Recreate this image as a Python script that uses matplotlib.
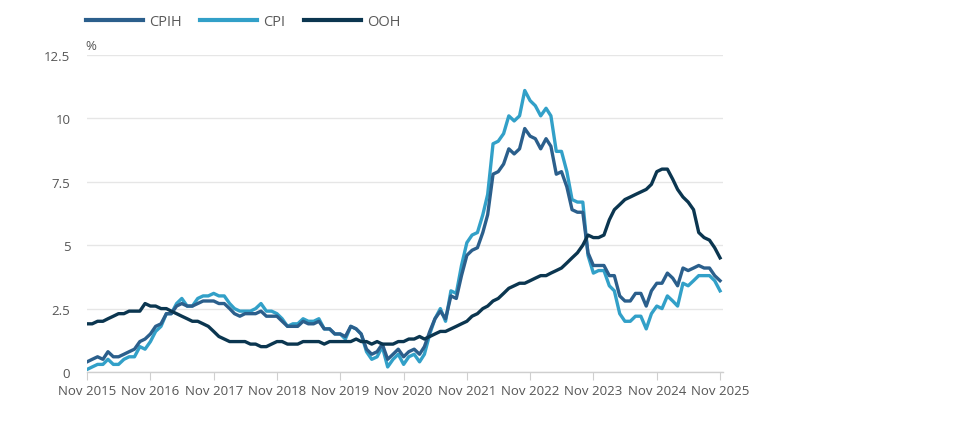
import matplotlib
matplotlib.use("Agg")
import matplotlib.pyplot as plt
import pandas as pd

plt.rcParams["font.family"] = ["Open Sans", "DejaVu Sans"]

# Monthly 12-month rates, Nov 2015 to Nov 2025
months = pd.date_range("2015-11-01", "2025-11-01", freq="MS")

cpih = [
    0.4, 0.5,
    0.6, 0.5, 0.8, 0.6, 0.6, 0.7, 0.8, 0.9, 1.2, 1.3, 1.5, 1.8,
    1.9, 2.3, 2.3, 2.6, 2.7, 2.6, 2.6, 2.7, 2.8, 2.8, 2.8, 2.7,
    2.7, 2.5, 2.3, 2.2, 2.3, 2.3, 2.3, 2.4, 2.2, 2.2, 2.2, 2.0,
    1.8, 1.8, 1.8, 2.0, 1.9, 1.9, 2.0, 1.7, 1.7, 1.5, 1.5, 1.4,
    1.8, 1.7, 1.5, 0.9, 0.7, 0.8, 1.1, 0.5, 0.7, 0.9, 0.6, 0.8,
    0.9, 0.7, 1.0, 1.6, 2.1, 2.4, 2.1, 3.0, 2.9, 3.8, 4.6, 4.8,
    4.9, 5.5, 6.2, 7.8, 7.9, 8.2, 8.8, 8.6, 8.8, 9.6, 9.3, 9.2,
    8.8, 9.2, 8.9, 7.8, 7.9, 7.3, 6.4, 6.3, 6.3, 4.7, 4.2, 4.2,
    4.2, 3.8, 3.8, 3.0, 2.8, 2.8, 3.1, 3.1, 2.6, 3.2, 3.5, 3.5,
    3.9, 3.7, 3.4, 4.1, 4.0, 4.1, 4.2, 4.1, 4.1, 3.8, 3.6,
]

cpi = [
    0.1, 0.2,
    0.3, 0.3, 0.5, 0.3, 0.3, 0.5, 0.6, 0.6, 1.0, 0.9, 1.2, 1.6,
    1.8, 2.3, 2.3, 2.7, 2.9, 2.6, 2.6, 2.9, 3.0, 3.0, 3.1, 3.0,
    3.0, 2.7, 2.5, 2.4, 2.4, 2.4, 2.5, 2.7, 2.4, 2.4, 2.3, 2.1,
    1.8, 1.9, 1.9, 2.1, 2.0, 2.0, 2.1, 1.7, 1.7, 1.5, 1.5, 1.3,
    1.8, 1.7, 1.5, 0.8, 0.5, 0.6, 1.0, 0.2, 0.5, 0.7, 0.3, 0.6,
    0.7, 0.4, 0.7, 1.5, 2.1, 2.5, 2.0, 3.2, 3.1, 4.2, 5.1, 5.4,
    5.5, 6.2, 7.0, 9.0, 9.1, 9.4, 10.1, 9.9, 10.1, 11.1, 10.7, 10.5,
    10.1, 10.4, 10.1, 8.7, 8.7, 7.9, 6.8, 6.7, 6.7, 4.6, 3.9, 4.0,
    4.0, 3.4, 3.2, 2.3, 2.0, 2.0, 2.2, 2.2, 1.7, 2.3, 2.6, 2.5,
    3.0, 2.8, 2.6, 3.5, 3.4, 3.6, 3.8, 3.8, 3.8, 3.6, 3.2,
]

ooh = [
    1.9, 1.9,
    2.0, 2.0, 2.1, 2.2, 2.3, 2.3, 2.4, 2.4, 2.4, 2.7, 2.6, 2.6,
    2.5, 2.5, 2.4, 2.3, 2.2, 2.1, 2.0, 2.0, 1.9, 1.8, 1.6, 1.4,
    1.3, 1.2, 1.2, 1.2, 1.2, 1.1, 1.1, 1.0, 1.0, 1.1, 1.2, 1.2,
    1.1, 1.1, 1.1, 1.2, 1.2, 1.2, 1.2, 1.1, 1.2, 1.2, 1.2, 1.2,
    1.2, 1.3, 1.2, 1.2, 1.1, 1.2, 1.1, 1.1, 1.1, 1.2, 1.2, 1.3,
    1.3, 1.4, 1.3, 1.4, 1.5, 1.6, 1.6, 1.7, 1.8, 1.9, 2.0, 2.2,
    2.3, 2.5, 2.6, 2.8, 2.9, 3.1, 3.3, 3.4, 3.5, 3.5, 3.6, 3.7,
    3.8, 3.8, 3.9, 4.0, 4.1, 4.3, 4.5, 4.7, 5.0, 5.4, 5.3, 5.3,
    5.4, 6.0, 6.4, 6.6, 6.8, 6.9, 7.0, 7.1, 7.2, 7.4, 7.9, 8.0,
    8.0, 7.6, 7.2, 6.9, 6.7, 6.4, 5.5, 5.3, 5.2, 4.9, 4.5,
]

y_ticks = [0, 2.5, 5, 7.5, 10, 12.5]
y_labels = ["0", "2.5", "5", "7.5", "10", "12.5"]

COLORS = {
    "CPIH": "#2b5f8c",
    "CPI": "#32a0c8",
    "OOH": "#0b3650",
}

fig = plt.figure(figsize=(9.8, 4.35), dpi=100)
ax = fig.add_axes([87 / 980, (435 - 373) / 435, (723 - 87) / 980, (373 - 56) / 435])

ax.plot(months, cpih, color=COLORS["CPIH"], linewidth=2.4, label="CPIH", zorder=3)
ax.plot(months, cpi, color=COLORS["CPI"], linewidth=2.4, label="CPI", zorder=2)
ax.plot(months, ooh, color=COLORS["OOH"], linewidth=2.4, label="OOH", zorder=4)

ax.set_xlim(months[0], months[-1] + pd.Timedelta(days=17))
ax.set_ylim(0, 12.5)

nov_ticks = [d for d in months if d.month == 11]
ax.set_xticks(nov_ticks)
ax.set_xticklabels([f"Nov {d.year}" for d in nov_ticks])
ax.set_yticks(y_ticks)
ax.set_yticklabels(y_labels)

ax.grid(axis="y", color="#e6e6e6", linewidth=1)
ax.set_axisbelow(True)
for side in ("top", "right", "left"):
    ax.spines[side].set_visible(False)
ax.spines["bottom"].set_color("#cfcfcf")
ax.spines["bottom"].set_linewidth(1)

ax.tick_params(axis="x", colors="#cfcfcf", labelcolor="#555555", length=6,
               labelsize=9.5, pad=3)
ax.tick_params(axis="y", length=0, labelcolor="#555555", labelsize=9.5, pad=12)

ax.text(-0.003, 1.008, "%", transform=ax.transAxes, fontsize=9.5, color="#555555",
        ha="left", va="bottom")

leg = ax.legend(loc="center left", bbox_to_anchor=(-0.002, 1 + 33 / 317), ncol=3,
                frameon=False, fontsize=10.5, handlelength=3.9, handletextpad=0.45,
                columnspacing=1.25, labelcolor="#5a5a5a", borderaxespad=0, borderpad=0)
for line in leg.get_lines():
    line.set_linewidth(3)

fig.savefig("out.png", dpi=100)
